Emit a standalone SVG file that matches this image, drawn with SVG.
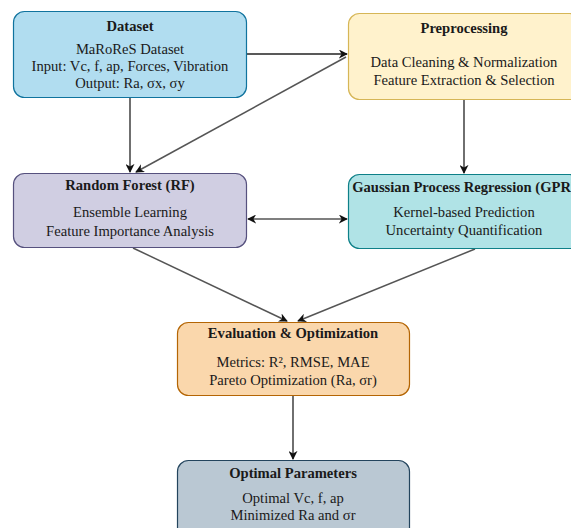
<svg xmlns="http://www.w3.org/2000/svg" width="571" height="528" viewBox="0 0 571 528">
<style>
text{font-family:"Liberation Serif","Times New Roman",serif;fill:#1a1a1a;text-anchor:middle}
.t{font-weight:bold;font-size:14.6px}
.b{font-size:14.6px}
.c{fill:none;stroke:#222;stroke-width:1.3}
.g{fill:none;stroke:#555;stroke-width:1.5}
</style>
<defs>
<marker id="ah" viewBox="0 0 10 10" refX="9" refY="5" markerWidth="9" markerHeight="9" markerUnits="userSpaceOnUse" orient="auto-start-reverse">
<path d="M0,0 L10,5 L0,10 L3,5 z" fill="#111"/>
</marker>
</defs>
<rect width="571" height="528" fill="#fff"/>
<g id="connectors">
<line class="c" x1="130" y1="98" x2="130" y2="172" marker-end="url(#ah)"/>
<line class="c" x1="247" y1="54" x2="347" y2="54" marker-end="url(#ah)"/>
<line class="g" x1="346" y1="57" x2="136" y2="172" marker-end="url(#ah)"/>
<line class="c" x1="464" y1="100" x2="464" y2="173" marker-end="url(#ah)"/>
<line class="g" x1="248" y1="219" x2="347" y2="219" marker-start="url(#ah)" marker-end="url(#ah)"/>
<line class="g" x1="133" y1="248" x2="287" y2="321" marker-end="url(#ah)"/>
<line class="g" x1="475" y1="249" x2="298" y2="321" marker-end="url(#ah)"/>
<line class="c" x1="293" y1="396" x2="293" y2="459" marker-end="url(#ah)"/>
</g>
<g id="dataset">
<rect x="13.5" y="11.5" width="233" height="86" rx="11" fill="#b1ddf0" stroke="#10739e" stroke-width="1.2"/>
<text class="t" x="130" y="31">Dataset</text>
<text class="b" x="130" y="54">MaRoReS Dataset</text>
<text class="b" x="130" y="71">Input: Vc, f, ap, Forces, Vibration</text>
<text class="b" x="130" y="87.5">Output: Ra, σx, σy</text>
</g>
<g id="preprocessing">
<rect x="348.5" y="13.5" width="232" height="86" rx="11" fill="#fff2cc" stroke="#d6b656" stroke-width="1.2"/>
<text class="t" x="464" y="33">Preprocessing</text>
<text class="b" x="464" y="67">Data Cleaning &amp; Normalization</text>
<text class="b" x="464" y="85">Feature Extraction &amp; Selection</text>
</g>
<g id="rf">
<rect x="13.5" y="173.5" width="233" height="74" rx="11" fill="#d0cee2" stroke="#56517e" stroke-width="1.2"/>
<text class="t" x="130" y="190">Random Forest (RF)</text>
<text class="b" x="130" y="217">Ensemble Learning</text>
<text class="b" x="130" y="235.5">Feature Importance Analysis</text>
</g>
<g id="gpr">
<rect x="348.5" y="174.5" width="232" height="74" rx="11" fill="#b0e3e6" stroke="#0e8088" stroke-width="1.2"/>
<text class="t" x="464" y="192">Gaussian Process Regression (GPR)</text>
<text class="b" x="464" y="217">Kernel-based Prediction</text>
<text class="b" x="464" y="235">Uncertainty Quantification</text>
</g>
<g id="evaluation">
<rect x="177.5" y="322.5" width="232" height="73" rx="11" fill="#fad7ac" stroke="#b46504" stroke-width="1.2"/>
<text class="t" x="293" y="338">Evaluation &amp; Optimization</text>
<text class="b" x="293" y="367">Metrics: R², RMSE, MAE</text>
<text class="b" x="293" y="385">Pareto Optimization (Ra, σr)</text>
</g>
<g id="optimal">
<rect x="177.5" y="460.5" width="232" height="80" rx="11" fill="#bac8d3" stroke="#23445d" stroke-width="1.2"/>
<text class="t" x="293" y="478">Optimal Parameters</text>
<text class="b" x="293" y="503">Optimal Vc, f, ap</text>
<text class="b" x="293" y="520">Minimized Ra and σr</text>
</g>
</svg>
